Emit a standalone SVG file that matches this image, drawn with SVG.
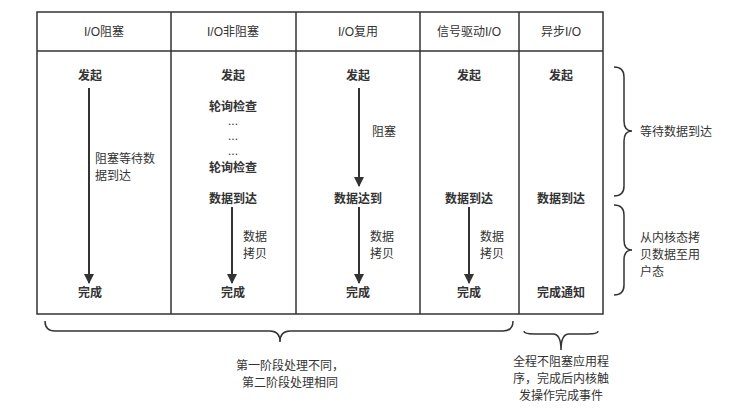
<svg xmlns="http://www.w3.org/2000/svg" width="744" height="416" viewBox="0 0 744 416">
<defs>
<style>
text{font-family:"Liberation Sans","Noto Sans CJK SC",sans-serif;font-size:12px;fill:#333}
.h{text-anchor:middle}
.b{font-weight:bold;text-anchor:middle}
.ln{stroke:#333;stroke-width:2;fill:none}
.br{stroke:#333;stroke-width:1.5;fill:none}
</style>
<marker id="a" viewBox="0 0 10 10" refX="9" refY="5" markerWidth="5" markerHeight="6" orient="auto" markerUnits="strokeWidth"><path d="M0,0L10,5L0,10z" fill="#333"/></marker>
</defs>
<rect width="744" height="416" fill="#fff"/>
<g id="table">
<rect x="37" y="12" width="566" height="302" fill="#fff" stroke="#333" stroke-width="1.5"/>
<line x1="37" y1="51" x2="603" y2="51" stroke="#333" stroke-width="1.5"/>
<line x1="171" y1="12" x2="171" y2="314" stroke="#333" stroke-width="1.5"/>
<line x1="296" y1="12" x2="296" y2="314" stroke="#333" stroke-width="1.5"/>
<line x1="420" y1="12" x2="420" y2="314" stroke="#333" stroke-width="1.5"/>
<line x1="519" y1="12" x2="519" y2="314" stroke="#333" stroke-width="1.5"/>
<text class="h" x="104" y="36">I/O阻塞</text>
<text class="h" x="233" y="36">I/O非阻塞</text>
<text class="h" x="358" y="36">I/O复用</text>
<text class="h" x="469" y="36">信号驱动I/O</text>
<text class="h" x="561" y="36">异步I/O</text>
</g>
<g id="col1">
<text class="b" x="90" y="80">发起</text>
<text x="95" y="163">阻塞等待数</text><text x="95" y="180">据到达</text>
<text class="b" x="90" y="297">完成</text>
</g>
<g id="col2">
<text class="b" x="233" y="80">发起</text>
<text class="b" x="233" y="111">轮询检查</text>
<text class="h" x="233" y="125">...</text>
<text class="h" x="233" y="140">...</text>
<text class="h" x="233" y="155">...</text>
<text class="b" x="233" y="172">轮询检查</text>
<text class="b" x="233" y="203">数据到达</text>
<text x="243" y="241">数据</text><text x="243" y="258">拷贝</text>
<text class="b" x="233" y="297">完成</text>
</g>
<g id="col3">
<text class="b" x="358" y="80">发起</text>
<text x="372" y="136">阻塞</text>
<text class="b" x="358" y="203">数据达到</text>
<text x="370" y="241">数据</text><text x="370" y="258">拷贝</text>
<text class="b" x="358" y="297">完成</text>
</g>
<g id="col4">
<text class="b" x="469" y="80">发起</text>
<text class="b" x="469" y="203">数据到达</text>
<text x="480" y="241">数据</text><text x="480" y="258">拷贝</text>
<text class="b" x="469" y="297">完成</text>
</g>
<g id="col5">
<text class="b" x="561" y="80">发起</text>
<text class="b" x="561" y="203">数据到达</text>
<text class="b" x="561" y="297">完成通知</text>
</g>
<g id="connectors">
<line class="ln" x1="89" y1="88" x2="89" y2="283" marker-end="url(#a)"/>
<line class="ln" x1="232" y1="207" x2="232" y2="283" marker-end="url(#a)"/>
<line class="ln" x1="359" y1="88" x2="359" y2="186" marker-end="url(#a)"/>
<line class="ln" x1="359" y1="207" x2="359" y2="283" marker-end="url(#a)"/>
<line class="ln" x1="469" y1="207" x2="469" y2="283" marker-end="url(#a)"/>
</g>
<g id="braces">
<path class="br" d="M614,67Q624,67 624,77L624,121Q624,131 632,131Q624,131 624,141L624,186Q624,196 614,196"/>
<path class="br" d="M614,205Q624,205 624,215L624,240Q624,250 632,250Q624,250 624,260L624,285Q624,295 614,295"/>
<path class="br" d="M45,321Q45,331 55,331L270,331Q280,331 280,342Q280,331 290,331L503,331Q513,331 513,321"/>
<path class="br" d="M524,331Q524,334 534,334L553,334Q561,334 561,350Q561,334 569,334L588,334Q598,334 598,331"/>
<text x="640" y="136">等待数据到达</text>
<text x="640" y="242">从内核态拷</text><text x="640" y="259">贝数据至用</text><text x="640" y="276">户态</text>
<text class="h" x="290" y="370">第一阶段处理不同，</text>
<text class="h" x="290" y="387">第二阶段处理相同</text>
<text class="h" x="561" y="366">全程不阻塞应用程</text>
<text class="h" x="561" y="383">序，完成后内核触</text>
<text class="h" x="561" y="400">发操作完成事件</text>
</g>
</svg>
